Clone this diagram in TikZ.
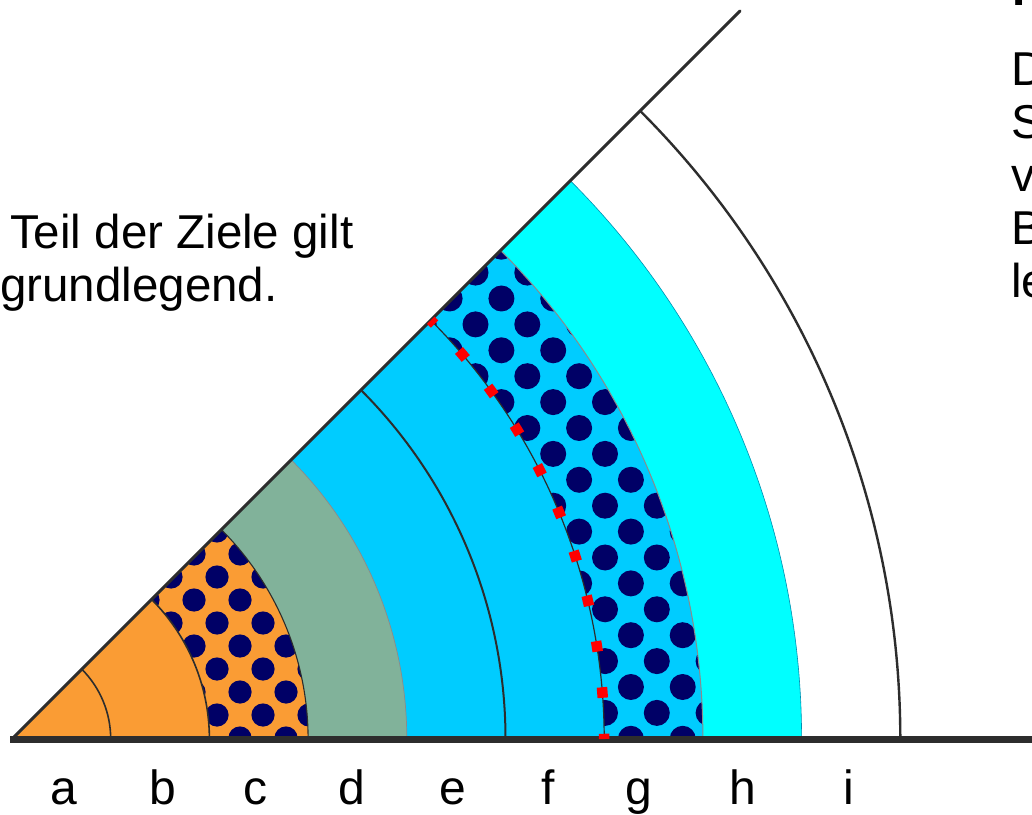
\documentclass[tikz,border=0pt]{standalone}
\usepackage{fontspec}
\setmainfont{Liberation Sans}
\definecolor{ringorange}{RGB}{250,156,52}
\definecolor{ringgreen}{RGB}{129,178,154}
\definecolor{ringsky}{RGB}{0,204,255}
\definecolor{ringcyan}{RGB}{0,255,255}
\definecolor{dotnavy}{RGB}{0,0,102}
\definecolor{inkgrey}{RGB}{45,45,45}
\tikzset{
  wedgeto/.style={insert path={(0,0) -- (#1,0) arc[start angle=0,end angle=45,radius=#1] -- cycle}},
  ringpath/.style 2 args={insert path={(#1,0) -- (#2,0) arc[start angle=0,end angle=45,radius=#2] -- (45:#1) arc[start angle=45,end angle=0,radius=#1] -- cycle}},
  arcline/.style={draw=inkgrey,line width=1.6pt},
  faintline/.style={draw=inkgrey!55,line width=0.7pt},
  navydot/.style={fill=dotnavy},
  label/.style={font=\fontsize{48}{55}\selectfont,anchor=base,inner sep=0pt},
  prose/.style={font=\fontsize{47.5}{55}\selectfont,anchor=base west,inner sep=0pt},
}
\begin{document}
\begin{tikzpicture}[x=1pt,y=1pt]
\clip (0,0) rectangle (1032,814);
\fill[white] (0,0) rectangle (1032,814);
\begin{scope}[shift={(12,75)}]
  \coordinate (O) at (0,0);
  \coordinate (ray) at (45:1029.5);
  \coordinate (axisstart) at (-2,0);
  \coordinate (axisend) at (1030,0);
  % filled sectors, outermost first
  \fill[ringcyan,wedgeto=789.6];
  \fill[ringsky,wedgeto=690.9];
  \fill[ringgreen,wedgeto=394.8];
  \fill[ringorange,wedgeto=296.1];
  % dotted rings
  \begin{scope}
    \clip[ringpath={197.4}{296.1}];
    \foreach \i in {-9,...,6}{\foreach \j in {-7,...,5}{%
      \ifodd\numexpr\i+\j+40\relax\else
        \fill[navydot] ({182+23*\i},{139+23*\j}) circle[radius=11.6];
      \fi}}
  \end{scope}
  \begin{scope}
    \clip[ringpath={592.2}{690.9}];
    \foreach \i in {-8,...,5}{\foreach \j in {-6,...,16}{%
      \ifodd\numexpr\i+\j+40\relax\else
        \fill[navydot] ({593+25.9*\i},{129.7+25.9*\j}) circle[radius=13];
      \fi}}
  \end{scope}
  % ring boundaries
  \draw[arcline] (98.7,0) arc[start angle=0,end angle=45,radius=98.7];
  \draw[arcline] (197.4,0) arc[start angle=0,end angle=45,radius=197.4];
  \draw[arcline,line width=1.1pt] (296.1,0) arc[start angle=0,end angle=45,radius=296.1];
  \draw[faintline] (394.8,0) arc[start angle=0,end angle=45,radius=394.8];
  \draw[arcline,line width=2pt] (493.5,0) arc[start angle=0,end angle=45,radius=493.5];
  \draw[arcline,line width=1.2pt] (592.2,0) arc[start angle=0,end angle=45,radius=592.2];
  \draw[faintline,line width=1pt] (690.9,0) arc[start angle=0,end angle=45,radius=690.9];
  \draw[draw=ringsky!70!black,line width=0.6pt] (789.6,0) arc[start angle=0,end angle=45,radius=789.6];
  \draw[arcline,line width=2.4pt] (888.3,0) arc[start angle=0,end angle=45,radius=888.3];
  % axes
  \draw[inkgrey,line width=3pt,line cap=round] (O) -- (ray);
  \draw[inkgrey,line width=7pt] (axisstart) -- (axisend);
  % red marker line
  \draw[red,line width=10.5pt,dash pattern=on 10.5pt off 36pt,dash phase=5.25pt]
    (592.2,0) arc[start angle=0,end angle=45,radius=592.2];
  % ring labels
  \node[label] (la) at (52,-65) {a};
  \node[label] (lb) at (151,-65) {b};
  \node[label] (lc) at (243,-65) {c};
  \node[label] (ld) at (340,-65) {d};
  \node[label] (le) at (441,-65) {e};
  \node[label] (lf) at (536,-65) {f};
  \node[label] (lg) at (627,-65) {g};
  \node[label] (lh) at (731,-65) {h};
  \node[label] (li) at (837,-65) {i};
\end{scope}
% text blocks
\node[prose] (teil) at (10,565) {Teil der Ziele gilt};
\node[prose] (grund) at (0,512) {grundlegend.};
\node[prose,font=\fontsize{47.5}{55}\selectfont\bfseries] (head) at (1012,808) {K};
\node[prose] (r1) at (1011,728) {D};
\node[prose] (r2) at (1011,675) {S};
\node[prose] (r3) at (1011,622) {v};
\node[prose] (r4) at (1011,569) {B};
\node[prose] (r5) at (1011,516) {le};
\end{tikzpicture}
\end{document}
